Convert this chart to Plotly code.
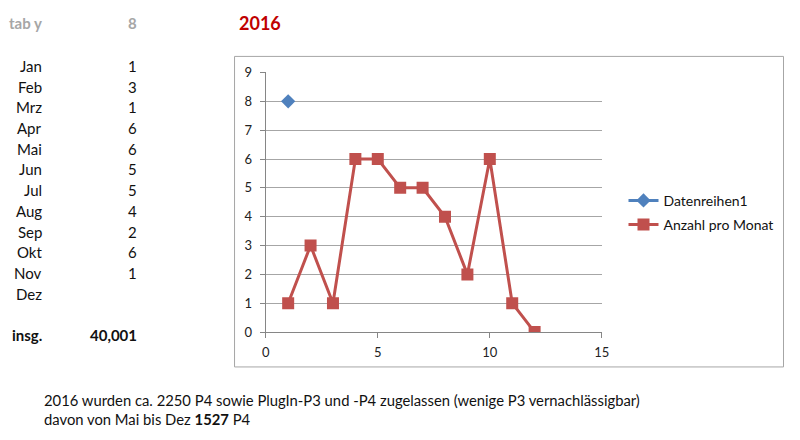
import plotly.graph_objects as go

# Data
months = ["Jan", "Feb", "Mrz", "Apr", "Mai", "Jun", "Jul", "Aug", "Sep", "Okt", "Nov", "Dez"]
month_values = ["1", "3", "1", "6", "6", "5", "5", "4", "2", "6", "1", ""]
month_no = [1, 2, 3, 4, 5, 6, 7, 8, 9, 10, 11, 12]
anzahl = [1, 3, 1, 6, 6, 5, 5, 4, 2, 6, 1, 0]
reihe1_x = [1]
reihe1_y = [8]

# page body has an 8px margin, so the figure is made 16px smaller to fit the window
OFF = 8
W, H = 800 - 2 * OFF, 440 - 2 * OFF
FONT = "Lato, Calibri, 'Open Sans', sans-serif"
TXT = "#111111"


def fx(x):
    return (x - OFF) / W


def fy(y):
    return 1 - (y - OFF) / H


fig = go.Figure()
fig.add_trace(go.Scatter(
    x=reihe1_x, y=reihe1_y, name="Datenreihen1", mode="lines+markers",
    legendgroup="a",
    line=dict(color="#4F81BD", width=3),
    marker=dict(symbol="diamond", size=11, color="#4F81BD"),
))
fig.add_trace(go.Scatter(
    x=month_no, y=anzahl, name="Anzahl pro Monat", mode="lines+markers",
    legendgroup="b",
    line=dict(color="#C0504D", width=3),
    marker=dict(symbol="square", size=12, color="#C0504D"),
))

annotations = []


def txt(x, y, s, anchor="right", size=15, color=TXT):
    annotations.append(dict(x=fx(x), y=fy(y), xref="paper", yref="paper", text=s,
                            showarrow=False, xanchor=anchor, yanchor="middle",
                            borderpad=0, borderwidth=0,
                            font=dict(family=FONT, size=size, color=color)))


txt(38, 15, "<b>tab y</b>", color="#A6A6A6")
txt(135, 15, "<b>8</b>", color="#A6A6A6")
txt(239, 15, "<b>2016</b>", anchor="left", size=18, color="#C00000")

row_y = 60
for m, v in zip(months, month_values):
    txt(38, row_y, m)
    if v:
        txt(135, row_y, v)
    row_y += 21.5
txt(38, 339, "<b>insg.</b>")
txt(135, 339, "<b>40,001</b>")

note1 = "2016 wurden ca. 2250 P4 sowie PlugIn-P3 und -P4 zugelassen (wenige P3 vernachlässigbar)"
note2 = "davon von Mai bis Dez <b>1527</b> P4"
txt(41, 407.5, note1, anchor="left", size=14.8)
txt(41, 426.5, note2, anchor="left", size=14.8)

fig.update_layout(
    width=W, height=H,
    margin=dict(l=0, r=0, t=0, b=0),
    paper_bgcolor="white", plot_bgcolor="white",
    font=dict(family=FONT, size=13, color=TXT),
    annotations=annotations,
    shapes=[dict(type="rect", xref="paper", yref="paper",
                 x0=fx(234), y0=fy(372.7), x1=fx(791.5), y1=fy(50),
                 line=dict(color="#A6A6A6", width=1), layer="below")],
    legend=dict(x=fx(629), y=fy(212.5), xanchor="left", yanchor="middle",
                font=dict(family=FONT, size=14, color=TXT), bgcolor="rgba(0,0,0,0)",
                itemwidth=30, tracegroupgap=3),
    xaxis=dict(domain=[fx(265.7), fx(607)], range=[0, 15], dtick=5, showgrid=False,
               showline=True, linecolor="#868686", ticks="outside", tickcolor="#868686",
               ticklen=5, ticklabelstandoff=3, zeroline=False,
               tickfont=dict(size=13, color="#222222")),
    yaxis=dict(domain=[fy(336.5), fy(66.7)], range=[0, 9], dtick=1,
               showgrid=True, gridcolor="#A6A6A6", showline=True, linecolor="#868686",
               ticks="outside", tickcolor="#868686", ticklen=5, ticklabelstandoff=5,
               zeroline=False, tickfont=dict(size=13, color="#222222")),
)

fig.write_html("out.html")
